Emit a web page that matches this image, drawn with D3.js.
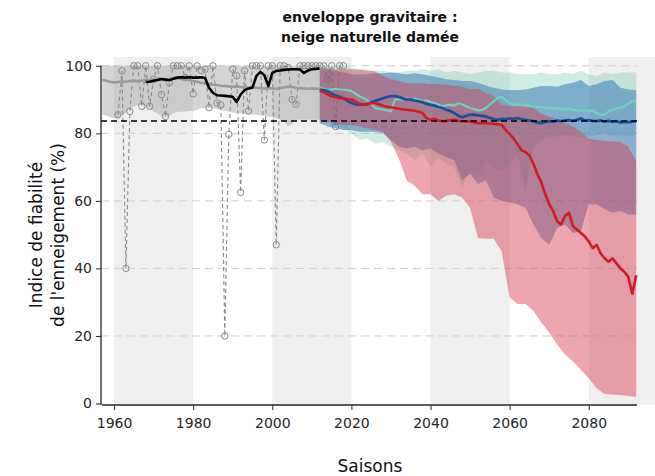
<!DOCTYPE html>
<html>
<head>
<meta charset="utf-8">
<script src="https://cdn.jsdelivr.net/npm/d3@7"></script>
<style>
  body { margin: 0; background: #fff; }
  svg { display: block; font-family: "DejaVu Sans", sans-serif; }
</style>
</head>
<body>
<svg id="chart" width="655" height="476"></svg>
<script>
// ---- Observed period (reanalysis) ----
const histStart = 1957;            // yearly series 1957..2012
const histUpper = [
  100,100,100,100,100,100,100,100,100,100,
  100,100,100,100,100,100,100,100,100,100,
  100,100,100,100,100,100,100,100,100,100,
  100,100,100,100,100,100,100,100,100,100,
  100,100,100,100,100,100,100,100,100,100,
  100,100,100,100,100,100];
const histLower = [
  85.5, 85.3, 84.8, 84.5, 84.5, 85.5, 86.0, 87.5, 87.8, 88.3,
  88.5, 88.0, 87.5, 86.5, 85.8, 85.0, 84.8, 85.2, 86.0, 86.3,
  86.4, 86.5, 86.6, 86.6, 87.0, 87.4, 87.5, 87.5, 87.4, 87.2,
  87.0, 86.7, 86.4, 86.2, 86.0, 85.9, 85.8, 85.7, 85.6, 85.5,
  85.3, 85.2, 85.0, 84.8, 84.5, 84.2, 83.5, 82.0, 82.8, 84.0,
  84.0, 84.0, 84.0, 84.0, 84.0, 84.0];
const histMedian = [
  95.8, 95.6, 95.3, 95.1, 95.2, 95.4, 95.3, 95.5, 95.6, 95.4,
  95.6, 95.8, 95.7, 95.9, 96.0, 96.1, 95.9, 96.0, 96.2, 96.3,
  96.1, 96.0, 95.8, 95.5, 95.3, 95.0, 94.8, 94.6, 94.4, 94.3,
  94.1, 94.0, 93.9, 93.8, 93.9, 93.7, 93.6, 93.5, 93.6, 93.5,
  93.4, 93.3, 93.4, 93.3, 93.2, 93.4, 93.6, 93.8, 93.7, 93.5,
  93.4, 93.3, 93.2, 93.3, 93.2, 93.2];

// Station-based yearly values, 1961..2018
const obsStart = 1961;
const obsValues = [
  85.5, 98.5, 40, 86.5, 100, 100, 88, 100, 88, 96,
  100, 91.5, 85, 95, 100, 100, 100, 96.5, 100, 91.7,
  100, 98.6, 99, 87.6, 100, 89, 88.4, 20, 79.7, 99,
  97, 62.5, 98.5, 86.6, 100, 100, 100, 78, 100, 100,
  47, 100, 100, 99.5, 90, 88.6, 100, 100, 100, 100,
  100, 100, 100, 96, 100, 82, 100, 100];

// Smoothed observed series, 1968..2012
const smoothStart = 1968;
const smoothValues = [
  95.2, 95.3, 95.6, 95.8, 96.1, 95.9, 95.7, 96.2, 96.5, 96.6,
  96.5, 96.6, 96.5, 96.5, 96.6, 96.4, 93.5, 92.0, 91.3, 91.2,
  91.1, 91.0, 90.8, 89.3, 91.5, 92.8, 93.3, 93.6, 97.0, 98.2,
  97.2, 94.0, 97.8, 98.5, 98.6, 98.8, 98.9, 99.0, 99.0, 98.9,
  97.9, 98.6, 99.0, 99.1, 99.2];

// ---- Projections: envelopes every two seasons, 2012..2092 ----
const envStart = 2012, envStep = 2;
const tealUpper = [
  99.5, 100, 100, 100, 99.5, 99, 99, 98.5, 98.5, 98,
  98, 98.5, 98.5, 99, 98.5, 99, 98, 98.5, 98, 97.5,
  98, 98.5, 98.5, 98, 98, 97.5, 97.5, 97.5, 98, 97.5,
  97.5, 98, 97.5, 98.5, 97.5, 97, 98, 97.5, 98, 98,
  98];
const tealLower = [
  84, 83, 82.5, 81.5, 80, 78, 78.5, 77, 77.5, 76,
  75, 74, 72, 74, 70, 73, 71, 70, 64, 69,
  67, 72, 70, 69, 71, 74, 63, 76, 78, 79,
  79, 79.5, 79, 79, 79, 79.5, 80, 79, 79.5, 79,
  79.5];
const blueUpper = [
  98.8, 99, 98.5, 98, 97.5, 97.5, 97.5, 97.8, 97.8, 98,
  97.8, 97.5, 97.8, 97.5, 97, 96.5, 96, 95.8, 95.5, 95.5,
  95, 94.2, 93.5, 93, 92.8, 92.8, 93, 93.5, 94, 94,
  93.8, 94.5, 95, 95.8, 94, 94.5, 95.5, 95.8, 93.5, 93,
  92.8];
const blueLower = [
  83, 82, 81.5, 81, 81, 80.5, 80.5, 80.5, 80, 78,
  76, 75.5, 76, 75, 75.5, 74, 73, 72, 66, 68,
  65, 66, 61, 60, 59.5, 59, 58, 53, 49, 47,
  52, 53, 50.5, 51, 59, 59, 57.5, 56.5, 57, 56,
  56];
const redUpper = [
  99.3, 99.3, 99, 99, 99, 98.8, 98.5, 98.4, 97, 96,
  95.5, 94.8, 94.8, 94.8, 94.6, 94.5, 94.4, 94, 93.8, 93,
  93.3, 92, 91, 88.5, 88, 88, 87.8, 87.5, 85.8, 85,
  84, 83, 82, 80.5, 78.5, 78, 77.8, 77.6, 77.5, 76,
  71.7];
const redLower = [
  84, 83.5, 83, 82.5, 82.5, 82, 81.5, 81, 80.5, 77.5,
  72.5, 66, 64.5, 62, 62, 60, 61.5, 62, 61, 58,
  49, 48.8, 48.8, 45, 31.5, 29.5, 29.5, 27.5, 24, 21,
  17.5, 14.5, 12.5, 10, 7.5, 4.5, 2.8, 2.7, 2.5, 2.2,
  2];

// ---- Projections: yearly medians, 2012..2092 ----
const medStart = 2012;
const tealMedian = [
  93.4, 93.2, 92.9, 93.0, 93.2, 93.0, 92.9, 92.8, 92.5, 91.8,
  91.0, 90.5, 89.8, 88.8, 87.5, 87.2, 87.0, 86.8, 86.5, 90.0,
  90.2, 90.0, 90.3, 89.8, 90.2, 90.0, 89.5, 89.8, 89.2, 89.0,
  88.5, 88.0, 88.3, 88.5, 88.2, 88.9, 88.6, 88.0, 87.5, 87.2,
  86.8, 86.9, 87.5, 88.5, 89.5, 90.5, 90.8, 89.8, 88.9, 88.6,
  88.5, 88.6, 88.4, 88.2, 88.0, 87.8, 87.8, 87.5, 87.6, 87.3,
  87.4, 87.2, 87.0, 87.3, 87.0, 86.8, 86.6, 86.9, 86.5, 86.9,
  86.0, 85.4, 85.5, 86.5, 87.0, 87.4, 87.5, 88.0, 88.8, 89.5,
  89.8];
const blueMedian = [
  92.9, 92.8, 92.5, 91.8, 91.2, 90.8, 90.4, 89.6, 89.0, 88.6,
  88.5, 88.4, 88.6, 89.2, 89.6, 90.0, 90.4, 90.8, 91.0, 91.0,
  90.8, 90.3, 90.0, 90.0, 89.7, 89.5, 89.2, 88.7, 88.4, 88.2,
  87.8, 87.5, 87.0, 86.6, 86.0, 85.3, 84.7, 85.2, 85.5, 85.5,
  85.3, 85.2, 85.0, 84.6, 84.2, 84.0, 84.3, 84.2, 84.4, 84.3,
  84.5, 84.2, 84.0, 83.8, 83.6, 83.2, 83.0, 83.3, 83.6, 83.5,
  83.8, 83.6, 83.8, 83.9, 83.7, 84.0, 84.4, 83.8, 83.9, 83.7,
  83.6, 83.8, 83.5, 83.7, 83.4, 83.6, 83.2, 83.4, 83.3, 83.5,
  83.6];
const redMedian = [
  92.6, 92.2, 91.5, 91.0, 90.7, 90.4, 90.3, 90.1, 90.0, 89.5,
  88.8, 88.5, 88.6, 88.9, 89.0, 88.6, 88.2, 87.9, 87.7, 87.5,
  87.3, 87.1, 87.0, 86.8, 86.7, 86.4, 86.0, 84.5, 84.0, 84.3,
  83.8, 83.6, 83.7, 83.9, 84.0, 83.7, 83.5, 83.6, 83.5, 83.2,
  83.0, 83.1, 83.0, 82.9, 82.8, 82.7, 82.5, 81.0, 79.8, 78.5,
  76.8, 75.0, 74.5, 73.5, 71.0, 68.0, 65.5, 62.0, 59.0, 57.0,
  54.0, 53.0, 55.5, 56.5, 52.5, 51.5, 50.5, 49.5, 48.0, 46.0,
  47.0, 44.5, 43.0, 42.0, 43.0, 41.5, 40.0, 39.0, 37.5, 32.5,
  38.0];

const threshold = 83.65;
const yTicks = [0, 20, 40, 60, 80, 100];
const xTicks = [1960, 1980, 2000, 2020, 2040, 2060, 2080];
const bandStarts = [1960, 2000, 2040, 2080];
const titleLines = ["enveloppe gravitaire :", "neige naturelle damée"];
const yLabelLines = ["Indice de fiabilité", "de l'enneigement (%)"];
const xLabel = "Saisons";

// ---- helpers ----
const yearly = (start, vals, step = 1) => vals.map((v, i) => ({ year: start + i * step, v }));
const band = (start, lo, hi, step) => lo.map((l, i) => ({ year: start + i * step, lo: l, hi: hi[i] }));

const svg = d3.select("#chart");
const x = d3.scaleLinear().domain([1956.7, 2092.2]).range([101, 637]);
const y = d3.scaleLinear().domain([0, 100]).range([403.5, 65.8]);
const plotBottom = 405;

const lineGen = d3.line().x(d => x(d.year)).y(d => y(d.v));
const areaGen = d3.area().x(d => x(d.year)).y0(d => y(d.lo)).y1(d => y(d.hi));

// alternating 20-season background bands
svg.append("g").selectAll("rect").data(bandStarts).join("rect")
  .attr("x", d => x(d))
  .attr("y", 57)
  .attr("width", d => Math.min(x(d + 20), 655) - x(d))
  .attr("height", plotBottom - 57)
  .attr("fill", "#efefef");

// horizontal grid
svg.append("g").selectAll("line").data(yTicks.filter(t => t > 0)).join("line")
  .attr("x1", x.range()[0]).attr("x2", x.range()[1])
  .attr("y1", d => y(d)).attr("y2", d => y(d))
  .attr("stroke", "#cfcfcf").attr("stroke-width", 1)
  .attr("stroke-dasharray", "8,5");

// observed-period envelope
svg.append("path")
  .datum(band(histStart, histLower, histUpper, 1))
  .attr("d", areaGen)
  .attr("fill", "#a0a0a0").attr("fill-opacity", 0.45);

// yearly observed values
const obs = yearly(obsStart, obsValues);
svg.append("path").datum(obs).attr("d", lineGen)
  .attr("fill", "none").attr("stroke", "#8a8a8a")
  .attr("stroke-width", 1.1).attr("stroke-dasharray", "4,3");
svg.append("g").selectAll("circle").data(obs).join("circle")
  .attr("cx", d => x(d.year)).attr("cy", d => y(d.v)).attr("r", 3.2)
  .attr("fill", "none").attr("stroke", "#8a8a8a").attr("stroke-width", 1);

// observed-period median and smoothed series
svg.append("path").datum(yearly(histStart, histMedian)).attr("d", lineGen)
  .attr("fill", "none").attr("stroke", "#9a9a9a").attr("stroke-width", 2.6);
svg.append("path").datum(yearly(smoothStart, smoothValues)).attr("d", lineGen)
  .attr("fill", "none").attr("stroke", "#000").attr("stroke-width", 2.6)
  .attr("stroke-linejoin", "round");

// scenario envelopes
const scenarios = [
  { lo: tealLower, hi: tealUpper, med: tealMedian, fill: "#5fc4a8", op: 0.3, line: "#6fd2b9", w: 2.2 },
  { lo: blueLower, hi: blueUpper, med: blueMedian, fill: "#2f6fb0", op: 0.5, line: "#1d4f9e", w: 2.8 },
  { lo: redLower, hi: redUpper, med: redMedian, fill: "#d83a4e", op: 0.45, line: "#d01c25", w: 2.6 }
];
scenarios.forEach(s => {
  svg.append("path").datum(band(envStart, s.lo, s.hi, envStep)).attr("d", areaGen)
    .attr("fill", s.fill).attr("fill-opacity", s.op);
});
scenarios.forEach(s => {
  svg.append("path").datum(yearly(medStart, s.med)).attr("d", lineGen)
    .attr("fill", "none").attr("stroke", s.line).attr("stroke-width", s.w)
    .attr("stroke-linejoin", "round");
});

// reliability threshold
svg.append("line")
  .attr("x1", x.range()[0]).attr("x2", x.range()[1])
  .attr("y1", y(threshold)).attr("y2", y(threshold))
  .attr("stroke", "#000").attr("stroke-width", 1.4).attr("stroke-dasharray", "6,4");

// axes
const tickColor = "#262626";
const yAxis = svg.append("g").attr("transform", `translate(${x.range()[0]},0)`)
  .call(d3.axisLeft(y).tickValues(yTicks).tickSize(5).tickPadding(4));
const xAxis = svg.append("g").attr("transform", `translate(0,${plotBottom})`)
  .call(d3.axisBottom(x).tickValues(xTicks).tickFormat(d3.format("d")).tickSize(5).tickPadding(8));
[yAxis, xAxis].forEach(g => {
  g.select(".domain").remove();
  g.selectAll("line").attr("stroke", tickColor).attr("stroke-width", 1);
  g.selectAll("text").attr("fill", tickColor).style("font-size", "14px")
    .style("font-family", "'DejaVu Sans', sans-serif");
});
svg.append("line").attr("x1", x.range()[0]).attr("x2", x.range()[0])
  .attr("y1", y(100)).attr("y2", plotBottom).attr("stroke", tickColor).attr("stroke-width", 1.3);
svg.append("line").attr("x1", x.range()[0] + 1).attr("x2", x.range()[1])
  .attr("y1", plotBottom).attr("y2", plotBottom).attr("stroke", tickColor).attr("stroke-width", 1.3);

// titles and labels
svg.append("g").selectAll("text").data(titleLines).join("text")
  .attr("x", 370).attr("y", (d, i) => 22 + i * 20)
  .attr("text-anchor", "middle").attr("font-weight", "bold")
  .style("font-size", "14px").attr("fill", "#111").text(d => d);

svg.append("g").selectAll("text").data(yLabelLines).join("text")
  .attr("transform", (d, i) => `translate(${36 + i * 22},235) rotate(-90)`)
  .attr("text-anchor", "middle").attr("dominant-baseline", "central")
  .style("font-size", "17px").attr("fill", "#111").text(d => d);

svg.append("text").attr("x", 370).attr("y", 472)
  .attr("text-anchor", "middle").style("font-size", "17px").attr("fill", "#111")
  .text(xLabel);
</script>
</body>
</html>
